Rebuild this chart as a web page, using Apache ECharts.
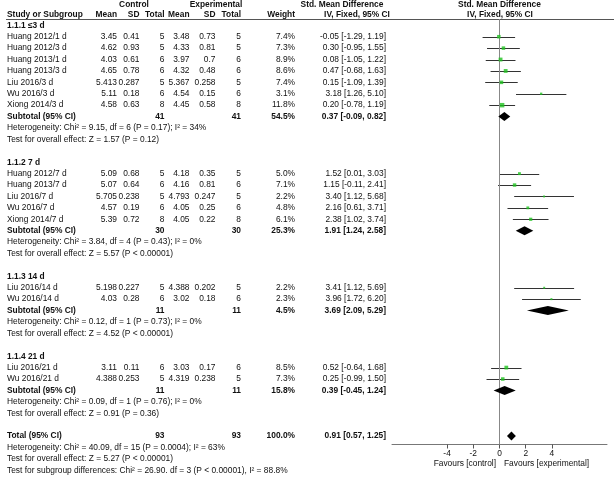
<!DOCTYPE html>
<html>
<head>
<meta charset="utf-8">
<script src="https://cdn.jsdelivr.net/npm/echarts@6/dist/echarts.min.js"></script>
<style>html,body{margin:0;padding:0;background:#fff;}#c{width:615px;height:477px;}</style>
</head>
<body>
<div id="c"></div>
<script>
// ---------------- DATA ----------------
const groupTitles = ['1.1.1 ≤3 d', '1.1.2 7 d', '1.1.3 14 d', '1.1.4 21 d'];
const groupSizes = [7, 5, 2, 2];
const studyNames = ['Huang 2012/1 d','Huang 2012/3 d','Huang 2013/1 d','Huang 2013/3 d','Liu 2016/3 d','Wu 2016/3 d','Xiong 2014/3 d',
  'Huang 2012/7 d','Huang 2013/7 d','Liu 2016/7 d','Wu 2016/7 d','Xiong 2014/7 d',
  'Liu 2016/14 d','Wu 2016/14 d',
  'Liu 2016/21 d','Wu 2016/21 d'];
const ctrlMean = ['3.45','4.62','4.03','4.65','5.413','5.11','4.58','5.09','5.07','5.705','4.57','5.39','5.198','4.03','3.11','4.388'];
const ctrlSD   = ['0.41','0.93','0.61','0.78','0.287','0.18','0.63','0.68','0.64','0.238','0.19','0.72','0.227','0.28','0.11','0.253'];
const ctrlN    = [5,5,6,6,5,6,8,5,6,5,6,8,5,6,6,5];
const expMean  = ['3.48','4.33','3.97','4.32','5.367','4.54','4.45','4.18','4.16','4.793','4.05','4.05','4.388','3.02','3.03','4.319'];
const expSD    = ['0.73','0.81','0.7','0.48','0.258','0.15','0.58','0.35','0.81','0.247','0.25','0.22','0.202','0.18','0.17','0.238'];
const expN     = [5,5,6,6,5,6,8,5,6,5,6,8,5,6,6,5];
const weights  = [7.4,7.3,8.9,8.6,7.4,3.1,11.8,5.0,7.1,2.2,4.8,6.1,2.2,2.3,8.5,7.3];
const smd      = [-0.05,0.30,0.08,0.47,0.15,3.18,0.20,1.52,1.15,3.40,2.16,2.38,3.41,3.96,0.52,0.25];
const ciLow    = [-1.29,-0.95,-1.05,-0.68,-1.09,1.26,-0.78,0.01,-0.11,1.12,0.61,1.02,1.12,1.72,-0.64,-0.99];
const ciHigh   = [1.19,1.55,1.22,1.63,1.39,5.10,1.19,3.03,2.41,5.68,3.71,3.74,5.69,6.20,1.68,1.50];

const subCtrlN  = [41,30,11,11];
const subExpN   = [41,30,11,11];
const subWeight = [54.5,25.3,4.5,15.8];
const subSmd    = [0.37,1.91,3.69,0.39];
const subLow    = [-0.09,1.24,2.09,-0.45];
const subHigh   = [0.82,2.58,5.29,1.24];
const subHet = ['Heterogeneity: Chi² = 9.15, df = 6 (P = 0.17); I² = 34%',
  'Heterogeneity: Chi² = 3.84, df = 4 (P = 0.43); I² = 0%',
  'Heterogeneity: Chi² = 0.12, df = 1 (P = 0.73); I² = 0%',
  'Heterogeneity: Chi² = 0.09, df = 1 (P = 0.76); I² = 0%'];
const subTest = ['Test for overall effect: Z = 1.57 (P = 0.12)',
  'Test for overall effect: Z = 5.57 (P < 0.00001)',
  'Test for overall effect: Z = 4.52 (P < 0.00001)',
  'Test for overall effect: Z = 0.91 (P = 0.36)'];

const totalN = [93, 93];
const totalWeight = 100.0;
const totalEst = [0.57, 0.91, 1.25];
const totalLines = ['Heterogeneity: Chi² = 40.09, df = 15 (P = 0.0004); I² = 63%',
  'Test for overall effect: Z = 5.27 (P < 0.00001)',
  'Test for subgroup differences: Chi² = 26.90. df = 3 (P < 0.00001), I² = 88.8%'];
const xTicks = [-4, -2, 0, 2, 4];

// ---------------- LAYOUT ----------------
const ROW0 = 25.3, PITCH = 11.41;
const GRID_TOP = 19, GRID_BOTTOM_Y = 444.5;
const FONT = '"Liberation Sans", Arial, sans-serif';
const FS = 8.4;
const rowY = r => ROW0 + PITCH * r;
const COL = {name: 7, cMean: 117, cSD: 139.5, cN: 164.5, eMean: 189.5, eSD: 215.5, eN: 241, w: 295, ci: 386};

const g = [];
function txt(s, x, y, align, bold) {
  g.push({type: 'text', silent: true, z: 10, style: {text: s, x: x, y: y, textAlign: align, textVerticalAlign: 'middle',
    fontSize: FS, fontWeight: bold ? 'bold' : 'normal', fontFamily: FONT, fill: '#111'}});
}
const ci = (e, l, h) => e.toFixed(2) + ' [' + l.toFixed(2) + ', ' + h.toFixed(2) + ']';

// headers
txt('Control', 134, 4.5, 'center', true);
txt('Experimental', 216, 4.5, 'center', true);
txt('Std. Mean Difference', 342, 4.5, 'center', true);
txt('Std. Mean Difference', 499.5, 4.5, 'center', true);
txt('Study or Subgroup', COL.name, 15, 'left', true);
txt('Mean', COL.cMean, 15, 'right', true);
txt('SD', COL.cSD, 15, 'right', true);
txt('Total', COL.cN, 15, 'right', true);
txt('Mean', COL.eMean, 15, 'right', true);
txt('SD', COL.eSD, 15, 'right', true);
txt('Total', COL.eN, 15, 'right', true);
txt('Weight', COL.w, 15, 'right', true);
txt('IV, Fixed, 95% CI', 357, 15, 'center', true);
txt('IV, Fixed, 95% CI', 500, 15, 'center', true);
g.push({type: 'line', silent: true, shape: {x1: 6, y1: 19.5, x2: 614, y2: 19.5}, style: {stroke: '#555', lineWidth: 1}});

const lineData = [], sqData = [], diaData = [];
let r = 0, s = 0;
groupTitles.forEach((title, gi) => {
  txt(title, COL.name, rowY(r), 'left', true); r++;
  for (let k = 0; k < groupSizes[gi]; k++, s++, r++) {
    const y = rowY(r);
    txt(studyNames[s], COL.name, y, 'left', false);
    txt(ctrlMean[s], COL.cMean, y, 'right', false);
    txt(ctrlSD[s], COL.cSD, y, 'right', false);
    txt(String(ctrlN[s]), COL.cN, y, 'right', false);
    txt(expMean[s], COL.eMean, y, 'right', false);
    txt(expSD[s], COL.eSD, y, 'right', false);
    txt(String(expN[s]), COL.eN, y, 'right', false);
    txt(weights[s].toFixed(1) + '%', COL.w, y, 'right', false);
    txt(ci(smd[s], ciLow[s], ciHigh[s]), COL.ci, y, 'right', false);
    lineData.push([ciLow[s], ciHigh[s], r]);
    sqData.push([smd[s], r, weights[s]]);
  }
  const y = rowY(r);
  txt('Subtotal (95% CI)', COL.name, y, 'left', true);
  txt(String(subCtrlN[gi]), COL.cN, y, 'right', true);
  txt(String(subExpN[gi]), COL.eN, y, 'right', true);
  txt(subWeight[gi].toFixed(1) + '%', COL.w, y, 'right', true);
  txt(ci(subSmd[gi], subLow[gi], subHigh[gi]), COL.ci, y, 'right', true);
  diaData.push([subLow[gi], subSmd[gi], subHigh[gi], r]);
  r++;
  txt(subHet[gi], COL.name, rowY(r), 'left', false); r++;
  txt(subTest[gi], COL.name, rowY(r), 'left', false); r++;
  r++;
});
{
  const y = rowY(r);
  txt('Total (95% CI)', COL.name, y, 'left', true);
  txt(String(totalN[0]), COL.cN, y, 'right', true);
  txt(String(totalN[1]), COL.eN, y, 'right', true);
  txt(totalWeight.toFixed(1) + '%', COL.w, y, 'right', true);
  txt(ci(totalEst[1], totalEst[0], totalEst[2]), COL.ci, y, 'right', true);
  diaData.push([totalEst[0], totalEst[1], totalEst[2], r]);
  r++;
  totalLines.forEach(t => { txt(t, COL.name, rowY(r), 'left', false); r++; });
}

const yMin = (GRID_TOP - ROW0) / PITCH;
const yMax = (GRID_BOTTOM_Y - ROW0) / PITCH;

const chart = echarts.init(document.getElementById('c'), null, {renderer: 'canvas'});
chart.setOption({
  animation: false,
  backgroundColor: '#fff',
  grid: {left: 392, right: 8, top: GRID_TOP, bottom: 477 - GRID_BOTTOM_Y, containLabel: false},
  xAxis: {
    type: 'value', min: -8.2, max: 8.2,
    splitLine: {show: false},
    axisLine: {show: true, onZero: false, lineStyle: {color: '#777', width: 1}},
    axisTick: {show: true, customValues: xTicks, length: 4, lineStyle: {color: '#555'}},
    axisLabel: {show: true, customValues: xTicks, fontSize: FS, fontFamily: FONT, color: '#111', margin: 5}
  },
  yAxis: {type: 'value', inverse: true, min: yMin, max: yMax, show: false},
  graphic: g.concat([
    {type: 'text', silent: true, style: {text: 'Favours [control]', x: 496, y: 463.5, textAlign: 'right', textVerticalAlign: 'middle', fontSize: FS, fontFamily: FONT, fill: '#111'}},
    {type: 'text', silent: true, style: {text: 'Favours [experimental]', x: 504, y: 463.5, textAlign: 'left', textVerticalAlign: 'middle', fontSize: FS, fontFamily: FONT, fill: '#111'}}
  ]),
  series: [
    {
      type: 'custom', name: 'ci', data: lineData, encode: {x: [0, 1], y: 2}, z: 3, silent: true,
      renderItem: function (params, api) {
        const a = api.coord([api.value(0), api.value(2)]);
        const b = api.coord([api.value(1), api.value(2)]);
        const y = Math.round(a[1]) + 0.5;
        return {type: 'line', shape: {x1: a[0], y1: y, x2: b[0], y2: y}, style: {stroke: '#333', lineWidth: 1}};
      },
      markLine: {
        silent: true, symbol: 'none', animation: false,
        label: {show: false},
        lineStyle: {color: '#888', width: 1, type: 'solid'},
        data: [{xAxis: 0}]
      }
    },
    {
      type: 'scatter', name: 'est', data: sqData, z: 5, silent: true,
      symbol: 'rect',
      symbolSize: v => 1.3 * Math.sqrt(v[2]),
      itemStyle: {color: '#1fc21f'}
    },
    {
      type: 'custom', name: 'diamond', data: diaData, encode: {x: [0, 1, 2], y: 3}, z: 6, silent: true,
      renderItem: function (params, api) {
        const row = api.value(3);
        const l = api.coord([api.value(0), row]);
        const m = api.coord([api.value(1), row]);
        const h = api.coord([api.value(2), row]);
        const hh = 4.5;
        return {type: 'polygon', shape: {points: [[l[0], l[1]], [m[0], m[1] - hh], [h[0], h[1]], [m[0], m[1] + hh]]}, style: {fill: '#000'}};
      }
    }
  ]
});
</script>
</body>
</html>
